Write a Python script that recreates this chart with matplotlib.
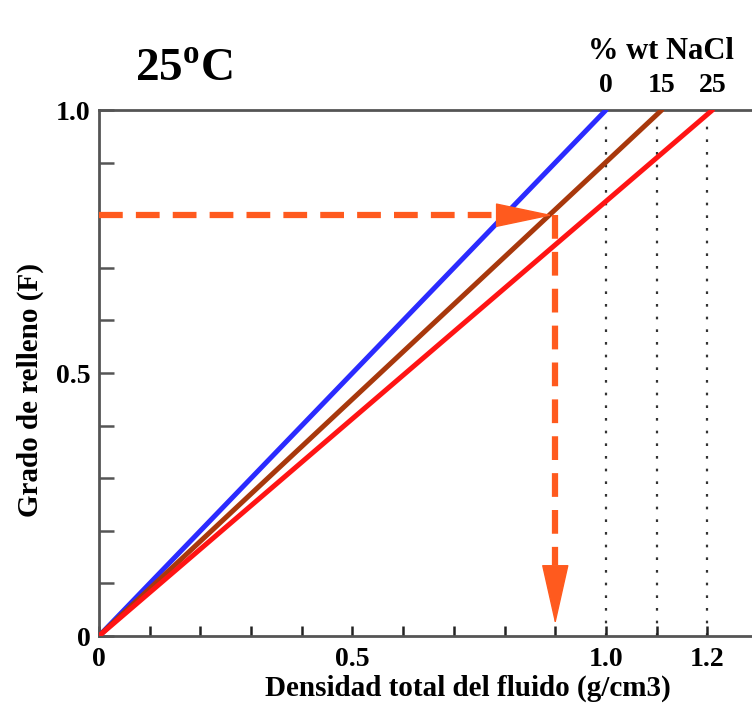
import numpy as np
import matplotlib
matplotlib.use("Agg")
import matplotlib.pyplot as plt

plt.rcParams['font.family'] = ['Liberation Serif', 'DejaVu Serif']
plt.rcParams['font.weight'] = 'bold'
plt.rcParams['axes.labelweight'] = 'bold'
plt.rcParams['mathtext.fontset'] = 'custom'
plt.rcParams['mathtext.rm'] = 'Liberation Serif:bold'
plt.rcParams['mathtext.bf'] = 'Liberation Serif:bold'

# brine densities (g/cm3) at F = 1 for each salinity
salinity = ["0", "15", "25"]
rho_end = [1.0, 1.11, 1.21]
colors = ["#2b2bff", "#a8380c", "#ff1414"]
ref_density = [1.0, 1.1, 1.2]   # dotted reference lines

# example reading
F_read = 0.8
rho_read = 0.9

ORANGE = "#ff5a1e"
GREY = "#555555"
FS = 21

fig = plt.figure(figsize=(7.52, 7.07), dpi=100)
ax = fig.add_axes([0.1316, 0.1004, 0.8684, 0.744])
ax.set_xlim(0, 1.288)
ax.set_ylim(0, 1.0)

for r in ref_density:
    ax.plot([r, r], [0, 0.985], color="#333333", lw=1.6, ls=(0, (1.2, 4.5)), zorder=1)

for r, c in zip(rho_end, colors):
    ax.plot([0, r], [0, 1.0], color=c, lw=3.6, solid_capstyle='round', zorder=3)

# horizontal dashed arrow
hl = 0.10
ax.plot([0, rho_read - hl], [F_read, F_read], color=ORANGE, lw=4.5,
        dashes=(3.8, 2.1), zorder=4)
ax.annotate("", xy=(rho_read - 0.005, F_read), xytext=(rho_read - hl, F_read),
            arrowprops=dict(arrowstyle="-|>,head_length=3.8,head_width=0.8",
                            color=ORANGE, lw=1, shrinkA=0, shrinkB=0,
                            mutation_scale=10), zorder=5)
# vertical dashed arrow
vl = 0.11
ax.plot([rho_read, rho_read], [F_read, 0.025 + vl], color=ORANGE, lw=4.5,
        dashes=(3.8, 2.1), zorder=4)
ax.annotate("", xy=(rho_read, 0.022), xytext=(rho_read, 0.022 + vl),
            arrowprops=dict(arrowstyle="-|>,head_length=4.0,head_width=0.9",
                            color=ORANGE, lw=1, shrinkA=0, shrinkB=0,
                            mutation_scale=10), zorder=5)

for s in ["left", "bottom", "top"]:
    ax.spines[s].set_color(GREY)
    ax.spines[s].set_linewidth(2)
ax.spines["right"].set_visible(False)

xt = np.round(np.arange(0, 1.21, 0.1), 1)
ax.set_xticks(xt)
ax.set_xticklabels(["0" if v == 0 else ("%.1f" % v if v in (0.5, 1.0, 1.2) else "") for v in xt])
yt = np.round(np.arange(0, 1.01, 0.1), 1)
ax.set_yticks(yt)
ax.set_yticklabels(["0" if v == 0 else ("%.1f" % v if v in (0.5, 1.0) else "") for v in yt])
ax.tick_params(axis='x', direction='in', length=7, width=1.8, color="#222222",
               labelsize=FS - 1, pad=8)
ax.tick_params(axis='y', direction='in', length=11, width=1.8, color=GREY,
               labelsize=FS - 1, pad=6)
ax.yaxis.get_major_ticks()[8].tick1line.set_color(ORANGE)

ax.set_xlabel("Densidad total del fluido (g/cm3)", fontsize=FS)
ax.xaxis.set_label_coords(0.565, -0.074)
ax.set_ylabel("Grado de relleno (F)", fontsize=FS)
ax.yaxis.set_label_coords(-0.084, 0.468)

ax.text(0.13, 1.076, r"25$^{\rm o}$C", fontsize=34, ha='center', va='center',
        transform=ax.transAxes)
ax.text(0.86, 1.112, "% wt NaCl", fontsize=FS + 1, ha='center', va='center',
        transform=ax.transAxes)
for r, s in zip(rho_end, salinity):
    ax.text(r, 1.047, s, fontsize=FS - 1, ha='center', va='center',
            transform=ax.get_xaxis_transform())

fig.savefig("out.png", dpi=100)
